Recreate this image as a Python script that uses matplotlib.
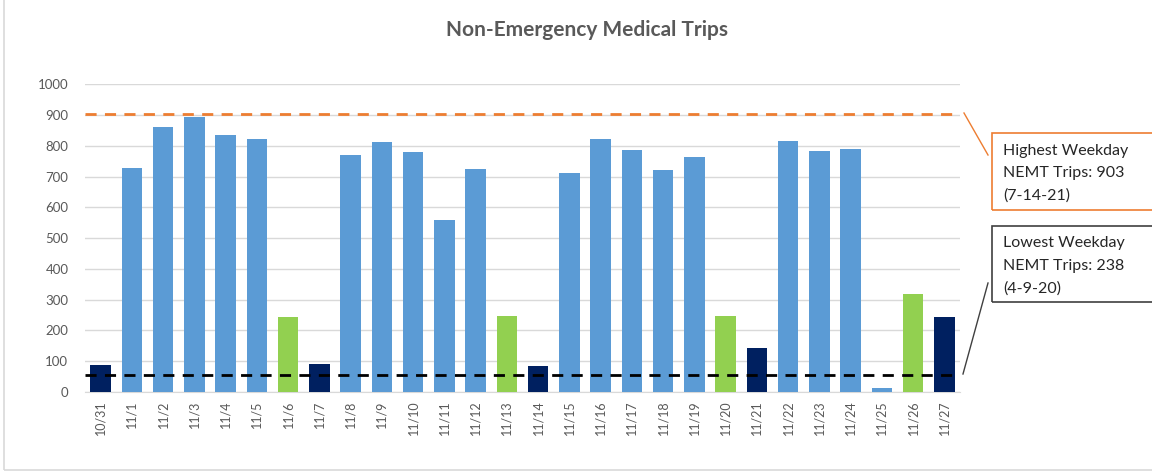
import matplotlib
matplotlib.use("Agg")
import matplotlib.pyplot as plt
from matplotlib.patches import Rectangle
from matplotlib.lines import Line2D

# ---- data ----
dates = ["10/31", "11/1", "11/2", "11/3", "11/4", "11/5", "11/6", "11/7", "11/8", "11/9",
         "11/10", "11/11", "11/12", "11/13", "11/14", "11/15", "11/16", "11/17", "11/18",
         "11/19", "11/20", "11/21", "11/22", "11/23", "11/24", "11/25", "11/26", "11/27"]
trips = [89, 728, 862, 895, 834, 822, 244, 92, 769, 813,
         781, 559, 726, 248, 86, 711, 823, 786, 721,
         763, 248, 144, 816, 784, 789, 14, 318, 244]
day_type = ["sun", "wk", "wk", "wk", "wk", "wk", "sat", "sun", "wk", "wk",
            "wk", "wk", "wk", "sat", "sun", "wk", "wk", "wk", "wk",
            "wk", "sat", "sun", "wk", "wk", "wk", "wk", "sat", "sun"]
highest_line = 903
lowest_line = 55

colors = {"wk": "#5b9bd5", "sat": "#92d050", "sun": "#002060"}
gray = "#595959"
plt.rcParams['font.family'] = ['Lato', 'DejaVu Sans']

W, H = 1152, 476
fig = plt.figure(figsize=(W / 100, H / 100), dpi=100, facecolor='white')

def fx(px):
    return px / W

def fy(py):
    return 1 - py / H

ax = fig.add_axes([fx(85), fy(392), fx(960) - fx(85), fy(84.3) - fy(392)])

x = range(len(dates))
ax.bar(x, trips, width=0.66, color=[colors[d] for d in day_type], zorder=3)

ax.axhline(highest_line, color="#ed7d31", linestyle=(0, (4, 3)), linewidth=2, zorder=4)
ax.axhline(lowest_line, color="black", linestyle=(0, (4, 3)), linewidth=2, zorder=4)

ax.set_xlim(-0.5, len(dates) - 0.5)
ax.set_ylim(0, 1000)
ax.set_yticks(range(0, 1001, 100))
ax.set_xticks(list(x))
ax.set_xticklabels(dates, rotation=90, fontsize=9, color=gray)
ax.tick_params(axis='y', length=0, pad=12, labelsize=9.5, labelcolor=gray)
ax.tick_params(axis='x', length=0, pad=6)
ax.grid(axis='y', color="#d9d9d9", linewidth=1, zorder=0)
for s in ["top", "right", "left"]:
    ax.spines[s].set_visible(False)
ax.spines["bottom"].set_color("#d9d9d9")

fig.text(fx(587), fy(30), "Non-Emergency Medical Trips", ha='center', va='center',
         fontsize=15, fontweight='bold', color=gray)

# outer chart frame
fig.add_artist(Rectangle((fx(4), fy(470)), 1.2, 1.2, transform=fig.transFigure,
                         fill=False, edgecolor="#d9d9d9", linewidth=1.2))

# callout boxes
fig.add_artist(Rectangle((fx(992), fy(210)), fx(200), fy(133) - fy(210), transform=fig.transFigure,
                         fill=False, edgecolor="#ed7d31", linewidth=1.2))
fig.add_artist(Rectangle((fx(992), fy(302)), fx(200), fy(226) - fy(302), transform=fig.transFigure,
                         fill=False, edgecolor="#404040", linewidth=1.2))
fig.add_artist(Line2D([fx(964), fx(988)], [fy(113), fy(155)], transform=fig.transFigure,
                      color="#ed7d31", linewidth=1))
fig.add_artist(Line2D([fx(963), fx(988)], [fy(374), fy(283)], transform=fig.transFigure,
                      color="#404040", linewidth=1))

for i, line in enumerate(["Highest Weekday", "NEMT Trips: 903", "(7-14-21)"]):
    fig.text(fx(1003), fy(151 + i * 22.2), line, ha='left', va='center', fontsize=11.5, color="#262626")
for i, line in enumerate(["Lowest Weekday", "NEMT Trips: 238", "(4-9-20)"]):
    fig.text(fx(1003), fy(243.5 + i * 22.4), line, ha='left', va='center', fontsize=11.5, color="#262626")

fig.savefig("out.png", dpi=100, facecolor='white')
